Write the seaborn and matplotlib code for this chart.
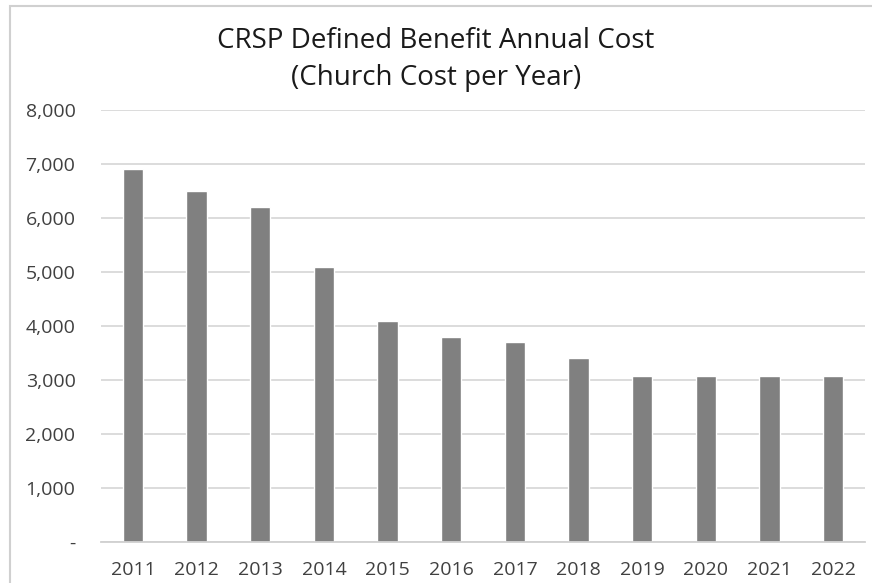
import matplotlib
matplotlib.use('Agg')
import matplotlib.pyplot as plt
import seaborn as sns
import pandas as pd
import numpy as np
from matplotlib.patches import Rectangle
from matplotlib.ticker import FuncFormatter, FixedLocator

years = ['2011', '2012', '2013', '2014', '2015', '2016',
         '2017', '2018', '2019', '2020', '2021', '2022']
cost = [6900, 6500, 6200, 5100, 4100, 3800, 3700, 3400, 3080, 3080, 3080, 3080]
title_lines = ['CRSP Defined Benefit Annual Cost', '(Church Cost per Year)']

df = pd.DataFrame({'Year': years, 'Cost': cost})

sns.set_style("white")
plt.rcParams['font.family'] = ['Open Sans', 'DejaVu Sans']

fig = plt.figure(figsize=(8.72, 5.83), dpi=100)
ax = fig.add_axes([0.116, 0.0703, 0.876, 0.741])

sns.barplot(data=df, x='Year', y='Cost', color='#808080', width=0.32,
            saturation=1, ax=ax, zorder=3)

ax.set_ylim(0, 8000)
ax.set_xlim(-0.5, len(years) - 0.5)
ax.set_yticks(np.arange(0, 8001, 1000))
ax.yaxis.set_major_formatter(FuncFormatter(lambda v, p: '-' if v == 0 else f'{int(v):,}'))
ax.grid(axis='y', color='#d9d9d9', linewidth=1.3, zorder=0)
ax.set_axisbelow(True)

for s in ['top', 'right', 'left']:
    ax.spines[s].set_visible(False)
ax.spines['bottom'].set_color('#d0d0d0')
ax.spines['bottom'].set_linewidth(1.3)
ax.spines['bottom'].set_zorder(4)

ax.set_xlabel('')
ax.set_ylabel('')
ax.tick_params(axis='y', length=0, pad=18.5, labelsize=14, labelcolor='#404040')
ax.tick_params(axis='x', which='major', length=0, pad=14, labelsize=14, labelcolor='#404040')
ax.xaxis.set_minor_locator(FixedLocator(np.arange(-0.5, len(years), 1.0)))
ax.tick_params(axis='x', which='minor', length=6, width=1.3, color='#d0d0d0')

fig.text(0.5, 0.93, title_lines[0], ha='center', va='center', fontsize=20, color='#1a1a1a')
fig.text(0.5, 0.867, title_lines[1], ha='center', va='center', fontsize=20, color='#1a1a1a')

fig.patches.append(Rectangle((0.012, -0.01), 1.0, 1.0, transform=fig.transFigure,
                             fill=False, edgecolor='#d0d0d0', linewidth=1.5))

fig.savefig('out.png', dpi=100)
